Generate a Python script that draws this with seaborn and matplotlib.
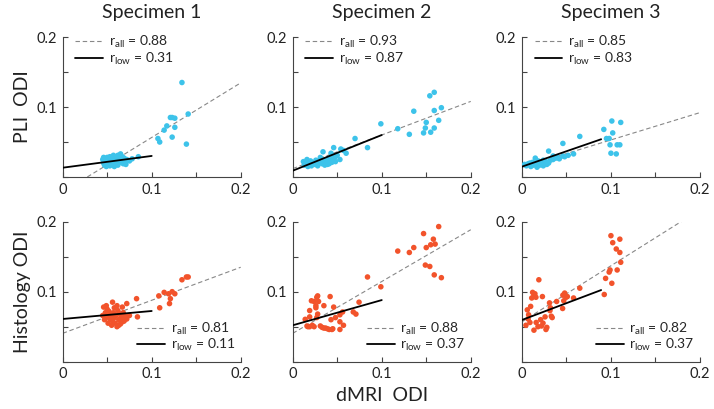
import numpy as np
import pandas as pd
import matplotlib
matplotlib.use("Agg")
import matplotlib.pyplot as plt
import seaborn as sns
from matplotlib.lines import Line2D

# ── Data ───────────────────────────────────────
specimens = ["Specimen 1", "Specimen 2", "Specimen 3"]

# PLI ODI vs dMRI ODI
pli_x1 = [0.045, 0.046, 0.047, 0.048, 0.050, 0.051, 0.052, 0.053, 0.054, 0.055, 0.056, 0.057,
          0.058, 0.059, 0.060, 0.061, 0.062, 0.063, 0.064, 0.065, 0.066, 0.068, 0.069, 0.070,
          0.072, 0.075, 0.078, 0.085, 0.049, 0.053, 0.058, 0.062, 0.067, 0.071, 0.057, 0.046,
          0.060, 0.134, 0.141, 0.139, 0.121, 0.123, 0.126, 0.126, 0.117, 0.114, 0.107, 0.109,
          0.123]
pli_y1 = [0.025, 0.020, 0.017, 0.022, 0.028, 0.019, 0.024, 0.016, 0.021, 0.027, 0.023, 0.018,
          0.025, 0.020, 0.026, 0.022, 0.017, 0.028, 0.021, 0.033, 0.024, 0.019, 0.027, 0.022,
          0.025, 0.023, 0.026, 0.029, 0.015, 0.029, 0.015, 0.031, 0.029, 0.018, 0.031, 0.028,
          0.018, 0.135, 0.090, 0.047, 0.085, 0.085, 0.084, 0.071, 0.073, 0.067, 0.055, 0.050,
          0.057]

pli_x2 = [0.012, 0.013, 0.015, 0.017, 0.018, 0.020, 0.021, 0.023, 0.025, 0.026, 0.028, 0.030,
          0.031, 0.033, 0.035, 0.036, 0.038, 0.040, 0.041, 0.043, 0.045, 0.046, 0.034, 0.043,
          0.047, 0.050, 0.053, 0.054, 0.057, 0.044, 0.027, 0.016, 0.039, 0.060, 0.048, 0.070,
          0.084, 0.099, 0.118, 0.131, 0.136, 0.147, 0.149, 0.150, 0.154, 0.159, 0.159, 0.155,
          0.159, 0.164, 0.167]
pli_y2 = [0.022, 0.017, 0.020, 0.015, 0.019, 0.023, 0.016, 0.020, 0.018, 0.024, 0.016, 0.021,
          0.028, 0.019, 0.024, 0.017, 0.022, 0.026, 0.019, 0.024, 0.030, 0.042, 0.036, 0.034,
          0.028, 0.031, 0.025, 0.040, 0.038, 0.021, 0.021, 0.025, 0.018, 0.034, 0.022, 0.055,
          0.042, 0.076, 0.069, 0.061, 0.094, 0.063, 0.070, 0.078, 0.116, 0.121, 0.095, 0.064,
          0.070, 0.081, 0.099]

pli_x3 = [0.003, 0.009, 0.015, 0.020, 0.024, 0.030, 0.035, 0.046, 0.048, 0.052, 0.058, 0.065,
          0.092, 0.095, 0.098, 0.099, 0.100, 0.101, 0.102, 0.106, 0.107, 0.110, 0.111, 0.005,
          0.007, 0.010, 0.012, 0.013, 0.016, 0.017, 0.018, 0.020, 0.022, 0.024, 0.025, 0.027,
          0.028, 0.030, 0.032, 0.035, 0.038, 0.040, 0.042, 0.046]
pli_y3 = [0.018, 0.020, 0.027, 0.022, 0.024, 0.037, 0.030, 0.048, 0.029, 0.031, 0.033, 0.058,
          0.068, 0.055, 0.055, 0.046, 0.034, 0.080, 0.063, 0.033, 0.046, 0.046, 0.078, 0.016,
          0.019, 0.015, 0.021, 0.017, 0.019, 0.014, 0.023, 0.017, 0.020, 0.016, 0.019, 0.022,
          0.018, 0.020, 0.024, 0.025, 0.027, 0.028, 0.026, 0.030]

# Histology ODI vs dMRI ODI
his_x1 = [0.046, 0.049, 0.056, 0.061, 0.067, 0.072, 0.083, 0.084, 0.108, 0.109, 0.114, 0.119,
          0.123, 0.126, 0.121, 0.120, 0.134, 0.139, 0.141, 0.045, 0.047, 0.048, 0.050, 0.051,
          0.052, 0.053, 0.054, 0.055, 0.056, 0.057, 0.058, 0.059, 0.060, 0.061, 0.062, 0.063,
          0.064, 0.065, 0.066, 0.068, 0.069, 0.070, 0.072, 0.075, 0.058, 0.050, 0.063, 0.067]
his_y1 = [0.078, 0.080, 0.085, 0.080, 0.078, 0.083, 0.090, 0.064, 0.094, 0.077, 0.099, 0.097,
          0.100, 0.097, 0.090, 0.083, 0.117, 0.121, 0.121, 0.066, 0.060, 0.070, 0.064, 0.055,
          0.072, 0.061, 0.067, 0.052, 0.058, 0.070, 0.063, 0.055, 0.066, 0.050, 0.073, 0.060,
          0.068, 0.054, 0.063, 0.070, 0.058, 0.065, 0.061, 0.066, 0.077, 0.075, 0.052, 0.057]

his_x2 = [0.014, 0.016, 0.017, 0.019, 0.019, 0.021, 0.024, 0.026, 0.026, 0.027, 0.028, 0.029,
          0.028, 0.027, 0.022, 0.024, 0.019, 0.031, 0.033, 0.035, 0.037, 0.039, 0.041, 0.044,
          0.045, 0.035, 0.042, 0.043, 0.046, 0.048, 0.053, 0.053, 0.053, 0.056, 0.057, 0.068,
          0.071, 0.0745, 0.084, 0.099, 0.118, 0.131, 0.136, 0.147, 0.149, 0.150, 0.154, 0.155,
          0.158, 0.160, 0.159, 0.164, 0.167]
his_y2 = [0.0605, 0.051, 0.050, 0.064, 0.073, 0.087, 0.086, 0.080, 0.077, 0.092, 0.094, 0.086,
          0.068, 0.063, 0.052, 0.050, 0.050, 0.051, 0.049, 0.048, 0.048, 0.047, 0.046, 0.046,
          0.047, 0.080, 0.093, 0.060, 0.078, 0.063, 0.067, 0.057, 0.046, 0.071, 0.052, 0.071,
          0.068, 0.085, 0.121, 0.107, 0.158, 0.156, 0.163, 0.183, 0.138, 0.163, 0.136, 0.167,
          0.175, 0.168, 0.124, 0.193, 0.120]

his_x3 = [0.0045, 0.006, 0.007, 0.0075, 0.009, 0.0098, 0.011, 0.012, 0.0135, 0.0135, 0.0146,
          0.0157, 0.016, 0.018, 0.019, 0.021, 0.022, 0.023, 0.0237, 0.026, 0.027, 0.028, 0.031,
          0.0315, 0.032, 0.033, 0.034, 0.039, 0.0457, 0.046, 0.047, 0.048, 0.0495, 0.051, 0.058,
          0.065, 0.0925, 0.094, 0.098, 0.099, 0.100, 0.101, 0.102, 0.106, 0.107, 0.110, 0.110,
          0.111]
his_y3 = [0.052, 0.074, 0.061, 0.067, 0.056, 0.079, 0.091, 0.099, 0.095, 0.045, 0.097, 0.092,
          0.056, 0.050, 0.117, 0.060, 0.051, 0.093, 0.055, 0.064, 0.046, 0.049, 0.084, 0.073,
          0.077, 0.065, 0.063, 0.086, 0.076, 0.095, 0.087, 0.098, 0.092, 0.093, 0.091, 0.105,
          0.096, 0.119, 0.128, 0.131, 0.180, 0.112, 0.170, 0.161, 0.131, 0.156, 0.175, 0.142]

pli_x = [pli_x1, pli_x2, pli_x3]
pli_y = [pli_y1, pli_y2, pli_y3]
his_x = [his_x1, his_x2, his_x3]
his_y = [his_y1, his_y2, his_y3]

# Fitted lines (intercept, slope)
pli_fit_all = [(-0.0215, 0.78), (0.012, 0.48), (0.014, 0.39)]
pli_fit_low = [(0.0133, 0.168), (0.009, 0.51), (0.0148, 0.44)]
his_fit_all = [(0.0405, 0.472), (0.0405, 0.74), (0.057, 0.80)]
his_fit_low = [(0.061, 0.114), (0.052, 0.36), (0.0596, 0.48)]
low_xmax = [0.1, 0.1, 0.089]

pli_r_all = ["0.88", "0.93", "0.85"]
pli_r_low = ["0.31", "0.87", "0.83"]
his_r_all = ["0.81", "0.88", "0.82"]
his_r_low = ["0.11", "0.37", "0.37"]

CYAN = "#3DC3EA"
ORANGE = "#F2532B"

# ── Style ──────────────────────────────────────
sns.set_theme(style="ticks")
plt.rcParams["font.family"] = ["Lato", "DejaVu Sans"]
plt.rcParams["mathtext.fontset"] = "custom"
plt.rcParams["mathtext.rm"] = "Lato"
plt.rcParams["mathtext.it"] = "Lato"

fig = plt.figure(figsize=(7.14, 4.09), dpi=100)

lefts = [0.0878, 0.410, 0.731]
bottoms = [0.5672, 0.1157]
w, h = 0.2493, 0.3423


def style_axes(ax):
    ax.set_xlim(0, 0.2)
    ax.set_ylim(0, 0.2)
    ax.set_xticks([0, 0.05, 0.1, 0.15, 0.2])
    ax.set_xticklabels(["0", "", "0.1", "", "0.2"])
    ax.set_yticks([0, 0.05, 0.1, 0.15, 0.2])
    ax.set_yticklabels(["", "", "0.1", "", "0.2"])
    ax.tick_params(direction="in", length=3.5, width=0.8, colors="#444444",
                   labelsize=10.5, labelcolor="#222222", pad=4)
    for side in ["top", "right"]:
        ax.spines[side].set_visible(False)
    for side in ["left", "bottom"]:
        ax.spines[side].set_color("#444444")
        ax.spines[side].set_linewidth(0.8)
    ax.set_xlabel("")
    ax.set_ylabel("")


def draw_panel(ax, xs, ys, color, fit_all, fit_low, xmax_low, r_all, r_low, loc):
    df = pd.DataFrame({"x": xs, "y": ys})
    sns.scatterplot(data=df, x="x", y="y", ax=ax, color=color, s=16,
                    edgecolor="none", zorder=3)
    xa = np.array([0, 0.2])
    ax.plot(xa, fit_all[0] + fit_all[1] * xa, ls=(0, (4, 2.5)), color="#888888",
            lw=0.8, zorder=2)
    xl = np.array([0, xmax_low])
    ax.plot(xl, fit_low[0] + fit_low[1] * xl, color="black", lw=1.3, zorder=4)
    handles = [Line2D([], [], ls=(0, (4, 2.5)), color="#888888", lw=0.8),
               Line2D([], [], color="black", lw=1.3)]
    labels = [r"r$_{\mathrm{all}}$ = " + r_all, r"r$_{\mathrm{low}}$ = " + r_low]
    if loc == "upper left":
        ax.legend(handles, labels, loc="upper left", bbox_to_anchor=(0.04, 1.06),
                  frameon=False, fontsize=10, handlelength=2.0, handletextpad=0.4,
                  labelspacing=0.05, borderaxespad=0)
    else:
        ax.legend(handles, labels, loc="lower right", bbox_to_anchor=(1.0, 0.02),
                  frameon=False, fontsize=10, handlelength=2.0, handletextpad=0.4,
                  labelspacing=0.05, borderaxespad=0)


for i in range(3):
    ax = fig.add_axes([lefts[i], bottoms[0], w, h])
    draw_panel(ax, pli_x[i], pli_y[i], CYAN, pli_fit_all[i], pli_fit_low[i],
               low_xmax[i], pli_r_all[i], pli_r_low[i], "upper left")
    style_axes(ax)
    ax.set_title(specimens[i], fontsize=14, pad=14, color="#222222")
    if i == 0:
        ax.set_ylabel("PLI  ODI", fontsize=14, labelpad=4, color="#222222")

    ax = fig.add_axes([lefts[i], bottoms[1], w, h])
    draw_panel(ax, his_x[i], his_y[i], ORANGE, his_fit_all[i], his_fit_low[i],
               low_xmax[i], his_r_all[i], his_r_low[i], "lower right")
    style_axes(ax)
    if i == 0:
        ax.set_ylabel("Histology ODI", fontsize=14, labelpad=4, color="#222222")
    if i == 1:
        ax.set_xlabel("dMRI  ODI", fontsize=14, labelpad=4, color="#222222")

fig.savefig("out.png", dpi=100)
